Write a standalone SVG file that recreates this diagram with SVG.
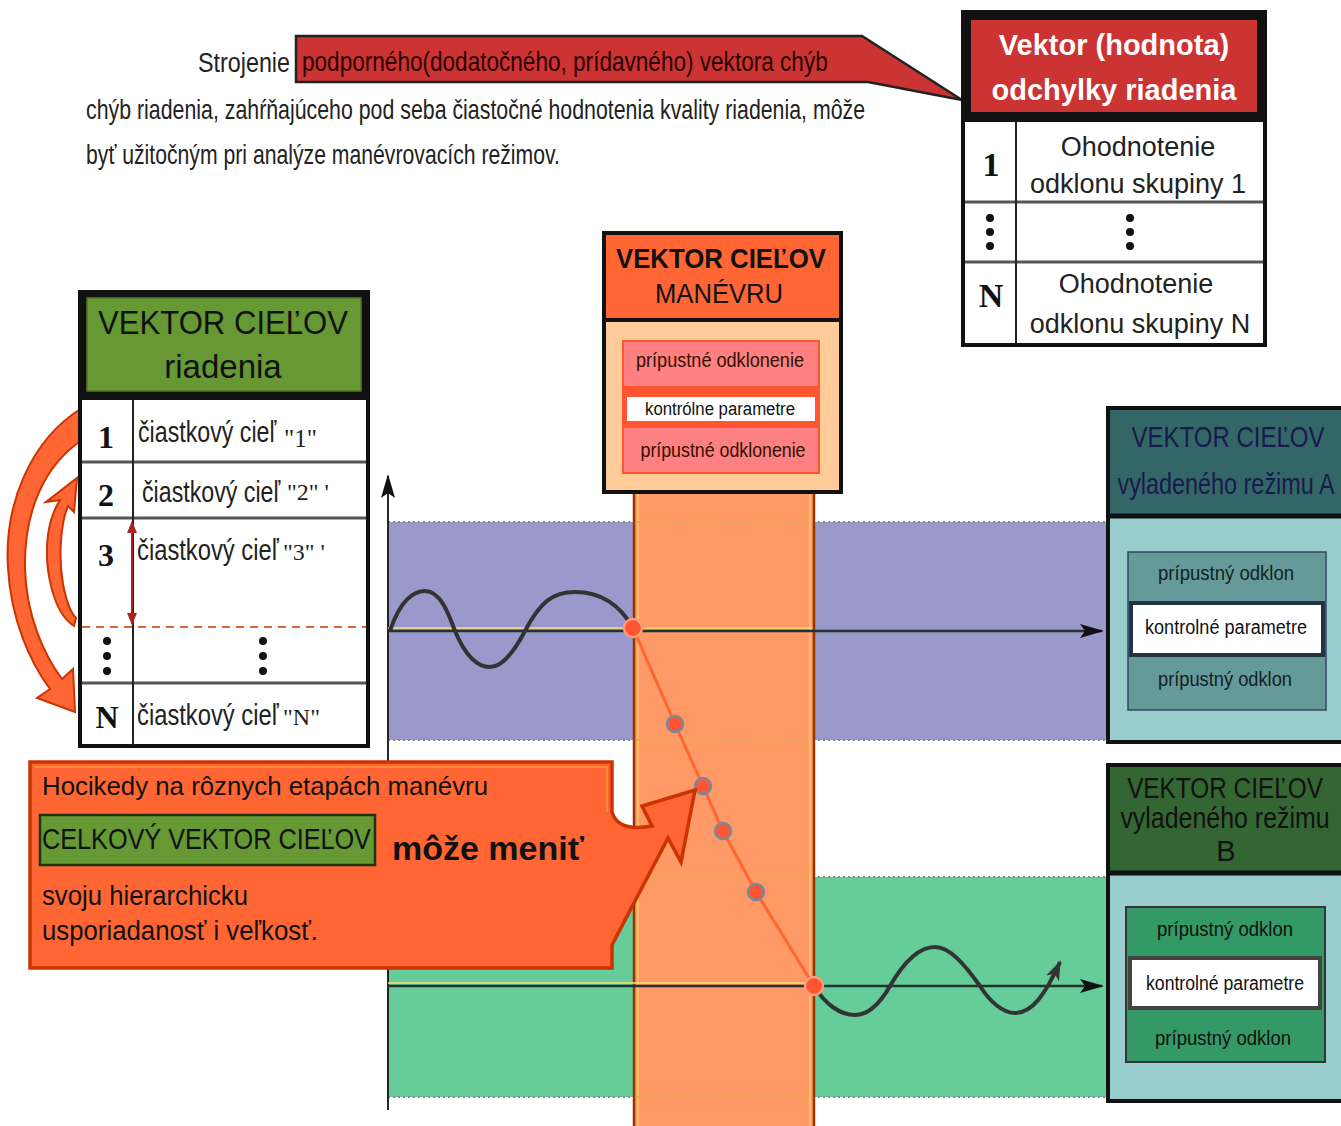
<svg xmlns="http://www.w3.org/2000/svg" width="1341" height="1126" viewBox="0 0 1341 1126">
<defs>
<style>
.s{font-family:"Liberation Sans",Arial,sans-serif;}
.r{font-family:"Liberation Serif","Times New Roman",serif;font-weight:bold;}
.q{font-family:"Liberation Serif","Times New Roman",serif;}
.b{font-weight:bold;}
.m{text-anchor:middle;}
.grid{stroke:#555;stroke-width:3;}
.dotg{stroke:#888;stroke-width:2;stroke-dasharray:2 3;}
.doty{stroke:#d9b24a;stroke-width:2;stroke-dasharray:3 4;}
.pt{fill:#ff5533;stroke:#7a8899;stroke-width:2.5;}
.pe{fill:#ff5533;stroke:#ff9a77;stroke-width:2.5;}
</style>
<marker id="ax" markerUnits="userSpaceOnUse" markerWidth="24" markerHeight="16" refX="22" refY="8" orient="auto">
<path d="M0,1 L24,8 L0,15 L5,8 Z" fill="#111"/>
</marker>
<marker id="axw" markerUnits="userSpaceOnUse" markerWidth="20" markerHeight="16" refX="18" refY="8" orient="auto">
<path d="M0,1 L20,8 L0,15 L5,8 Z" fill="#333"/>
</marker>
<marker id="ra" markerUnits="userSpaceOnUse" markerWidth="12" markerHeight="10" refX="11" refY="5" orient="auto-start-reverse">
<path d="M0,0 L12,5 L0,10 Z" fill="#aa2222"/>
</marker>
</defs>
<rect width="1341" height="1126" fill="#ffffff"/>

<g id="bands">
<rect x="388" y="522" width="722" height="218" fill="#9999cc"/>
<rect x="388" y="877" width="722" height="220" fill="#66cc99"/>
<line class="dotg" x1="388" y1="522" x2="1108" y2="522"/>
<line class="dotg" x1="388" y1="740" x2="1108" y2="740"/>
<line class="dotg" x1="388" y1="877" x2="1108" y2="877"/>
<line class="dotg" x1="388" y1="1097" x2="1108" y2="1097"/>
<rect x="634" y="493" width="180" height="640" fill="#ff9966"/>
<line x1="638" y1="493" x2="638" y2="1126" stroke="#ffcc66" stroke-width="1.5"/>
<line x1="810" y1="493" x2="810" y2="1126" stroke="#ffcc66" stroke-width="1.5"/>
<line x1="634" y1="493" x2="634" y2="1126" stroke="#993300" stroke-width="2.5"/>
<line x1="814" y1="493" x2="814" y2="1126" stroke="#993300" stroke-width="2.5"/>
<line class="doty" x1="636" y1="522" x2="812" y2="522"/>
<line class="doty" x1="636" y1="740" x2="812" y2="740"/>
<line class="doty" x1="636" y1="877" x2="812" y2="877"/>
<line class="doty" x1="636" y1="1097" x2="812" y2="1097"/>
</g>

<g id="connectors">
<line x1="388" y1="1110" x2="388" y2="476" stroke="#111" stroke-width="1.8" marker-end="url(#ax)"/>
<line x1="388" y1="628" x2="812" y2="628" stroke="#ffdd77" stroke-width="1.5"/>
<line x1="388" y1="631" x2="1102" y2="631" stroke="#223333" stroke-width="2.5" marker-end="url(#ax)"/>
<line x1="388" y1="983" x2="812" y2="983" stroke="#ffdd77" stroke-width="1.5"/>
<line x1="388" y1="986" x2="1102" y2="986" stroke="#223333" stroke-width="2.5" marker-end="url(#ax)"/>
<path d="M390,631 C400,600 414,591 425,591 C440,591 448,612 455,631 C465,655 477,667 490,667 C503,667 515,650 525,631 C540,602 553,592 575,592 C600,592 620,605 633,628" fill="none" stroke="#333" stroke-width="4"/>
<path d="M814,986 C825,1004 840,1015 855,1015 C870,1015 882,1000 890,986 C905,960 920,947 935,947 C950,947 965,965 980,986 C990,1002 1003,1013 1015,1013 C1032,1013 1045,995 1060,962" fill="none" stroke="#333" stroke-width="4" marker-end="url(#axw)"/>
<polyline points="633,628 675,724 703,786 723,831 756,892 814,986" fill="none" stroke="#ff6633" stroke-width="3"/>
<circle class="pe" cx="633" cy="628" r="9"/>
<circle class="pt" cx="675" cy="724" r="8"/>
<circle class="pt" cx="703" cy="786" r="8"/>
<circle class="pt" cx="723" cy="831" r="8"/>
<circle class="pt" cx="756" cy="892" r="8"/>
<circle class="pe" cx="814" cy="986" r="9"/>
<path d="M82,408 C30,440 4,505 8,568 C11,620 30,662 50,689 L37,698 L75,712 L73,669 L62,679 C44,655 26,615 25,568 C24,510 45,465 82,440 Z" fill="#ff6633" stroke="#cc3300" stroke-width="2"/>
<path d="M74,626 C52,612 44,566 48,535 C50,520 55,508 60,500 L46,502 L77,478 L74,512 L68,506 C61,522 58,556 63,584 C66,600 70,612 76,618 Z" fill="#ff6633" stroke="#cc3300" stroke-width="2"/>
</g>

<g id="intro">
<text class="s" x="198" y="72" font-size="27" textLength="92" lengthAdjust="spacingAndGlyphs" fill="#222">Strojenie</text>
<path d="M296,36 H862 L962,100 L868,82 H296 Z" fill="#cc3333" stroke="#222" stroke-width="2.5"/>
<text class="s" transform="translate(302,71) scale(0.75,1)" font-size="27" textLength="701" lengthAdjust="spacingAndGlyphs" fill="#2a0000">podporného(dodatočného, prídavného) vektora chýb</text>
<text class="s" transform="translate(86,119) scale(0.7,1)" font-size="28" textLength="1113" lengthAdjust="spacingAndGlyphs" fill="#222">chýb riadenia, zahŕňajúceho pod seba čiastočné hodnotenia kvality riadenia, môže</text>
<text class="s" transform="translate(86,164) scale(0.7,1)" font-size="28" textLength="677" lengthAdjust="spacingAndGlyphs" fill="#222">byť užitočným pri analýze manévrovacích režimov.</text>
</g>

<g id="odchylka">
<rect x="963" y="12" width="302" height="333" fill="#fff" stroke="#111" stroke-width="4"/>
<rect x="965" y="14" width="298" height="108" fill="#111"/>
<rect x="971" y="20" width="286" height="92" fill="#cc3333"/>
<text class="s b m" x="1114" y="55" font-size="29" fill="#fff">Vektor (hodnota)</text>
<text class="s b m" x="1114" y="100" font-size="29" fill="#fff">odchylky riadenia</text>
<text class="r m" x="991" y="176" font-size="34" fill="#111">1</text>
<text class="s m" x="1138" y="156" font-size="27" fill="#222">Ohodnotenie</text>
<text class="s m" x="1138" y="193" font-size="27" fill="#222">odklonu skupiny 1</text>
<text class="r m" x="991" y="307" font-size="34" fill="#111">N</text>
<text class="s m" x="1136" y="293" font-size="27" fill="#222">Ohodnotenie</text>
<text class="s m" x="1140" y="333" font-size="27" fill="#222">odklonu skupiny  N</text>
<line class="grid" x1="965" y1="202" x2="1263" y2="202"/>
<line class="grid" x1="965" y1="262" x2="1263" y2="262"/>
<line x1="1016" y1="122" x2="1016" y2="343" stroke="#222" stroke-width="2"/>
<g fill="#111">
<circle cx="990" cy="218" r="4"/><circle cx="990" cy="232" r="4"/><circle cx="990" cy="246" r="4"/>
<circle cx="1130" cy="218" r="4"/><circle cx="1130" cy="232" r="4"/><circle cx="1130" cy="246" r="4"/>
</g>
</g>

<g id="ciele-riadenia">
<rect x="80" y="292" width="288" height="454" fill="#fff" stroke="#111" stroke-width="4"/>
<rect x="82" y="294" width="284" height="106" fill="#111"/>
<rect x="87" y="298" width="274" height="93" fill="#669933" stroke="#557722" stroke-width="1.5"/>
<text class="s" x="98" y="334" font-size="34" textLength="250" lengthAdjust="spacingAndGlyphs" fill="#111">VEKTOR CIEĽOV</text>
<text class="s m" x="223" y="378" font-size="33" fill="#111">riadenia</text>
<line class="grid" x1="82" y1="462" x2="366" y2="462"/>
<line class="grid" x1="82" y1="518" x2="366" y2="518"/>
<line x1="82" y1="627" x2="366" y2="627" stroke="#dd6633" stroke-width="2" stroke-dasharray="8 6"/>
<line class="grid" x1="82" y1="683" x2="366" y2="683"/>
<line x1="133" y1="400" x2="133" y2="745" stroke="#222" stroke-width="2"/>
<text class="r m" x="106" y="448" font-size="32" fill="#111">1</text>
<text class="r m" x="106" y="506" font-size="32" fill="#111">2</text>
<text class="r m" x="106" y="566" font-size="32" fill="#111">3</text>
<text class="r m" x="107" y="728" font-size="32" fill="#111">N</text>
<g fill="#111">
<circle cx="107" cy="641" r="4"/><circle cx="107" cy="656" r="4"/><circle cx="107" cy="671" r="4"/>
<circle cx="263" cy="641" r="4"/><circle cx="263" cy="656" r="4"/><circle cx="263" cy="671" r="4"/>
</g>
<text class="s" transform="translate(138,442) scale(0.8,1)" font-size="29" fill="#222">čiastkový cieľ</text>
<text class="q" x="284" y="447" font-size="25" fill="#222">"1"</text>
<text class="s" transform="translate(142,502) scale(0.8,1)" font-size="29" fill="#222">čiastkový cieľ</text>
<text class="q" x="287" y="500" font-size="24" fill="#222">"2"   '</text>
<text class="s" transform="translate(137,560) scale(0.82,1)" font-size="29" fill="#222">čiastkový cieľ</text>
<text class="q" x="283" y="560" font-size="24" fill="#222">"3"  '</text>
<text class="s" transform="translate(137,725) scale(0.82,1)" font-size="29" fill="#222">čiastkový cieľ</text>
<text class="q" x="283" y="725" font-size="24" fill="#222">"N"</text>
<line x1="132" y1="522" x2="132" y2="624" stroke="#aa2222" stroke-width="2" marker-start="url(#ra)" marker-end="url(#ra)"/>
</g>

<g id="ciele-manevru">
<rect x="604" y="233" width="237" height="259" fill="#ffcc99" stroke="#111" stroke-width="4"/>
<rect x="606" y="235" width="233" height="84" fill="#ff6633"/>
<line x1="604" y1="320" x2="841" y2="320" stroke="#111" stroke-width="4"/>
<text class="s b" x="616" y="268" font-size="28" textLength="210" lengthAdjust="spacingAndGlyphs" fill="#111">VEKTOR CIEĽOV</text>
<text class="s" x="655" y="303" font-size="28" textLength="128" lengthAdjust="spacingAndGlyphs" fill="#111">MANÉVRU</text>
<rect x="622" y="340" width="198" height="134" fill="#ff5533"/>
<rect x="624" y="342" width="194" height="44" fill="#ff8080"/>
<rect x="627" y="397" width="188" height="24" fill="#fff"/>
<rect x="624" y="428" width="194" height="44" fill="#ff8080"/>
<text class="s m" x="720" y="367" font-size="20" textLength="168" lengthAdjust="spacingAndGlyphs" fill="#331100">prípustné odklonenie</text>
<text class="s m" x="720" y="415" font-size="18" textLength="150" lengthAdjust="spacingAndGlyphs" fill="#111">kontrólne parametre</text>
<text class="s m" x="723" y="457" font-size="20" textLength="165" lengthAdjust="spacingAndGlyphs" fill="#331100">prípustné odklonenie</text>
</g>

<g id="rezim-a">
<rect x="1108" y="408" width="240" height="334" fill="#99cccc" stroke="#111" stroke-width="4"/>
<rect x="1110" y="410" width="236" height="104" fill="#336666"/>
<line x1="1108" y1="516" x2="1341" y2="516" stroke="#111" stroke-width="5"/>
<text class="s m" transform="translate(1228,447) scale(0.8,1)" font-size="30" fill="#1a1a4d">VEKTOR CIEĽOV</text>
<text class="s m" transform="translate(1226,494) scale(0.78,1)" font-size="30" fill="#1a1a4d">vyladeného režimu A</text>
<rect x="1128" y="552" width="198" height="158" fill="#669999" stroke="#334466" stroke-width="1.5"/>
<rect x="1131" y="603" width="192" height="52" fill="#fff" stroke="#223344" stroke-width="4"/>
<text class="s m" x="1226" y="580" font-size="20" textLength="136" lengthAdjust="spacingAndGlyphs" fill="#112222">prípustný odklon</text>
<text class="s m" x="1226" y="634" font-size="20" textLength="162" lengthAdjust="spacingAndGlyphs" fill="#111">kontrolné parametre</text>
<text class="s m" x="1225" y="686" font-size="20" textLength="134" lengthAdjust="spacingAndGlyphs" fill="#112222">prípustný odklon</text>
</g>

<g id="rezim-b">
<rect x="1108" y="765" width="240" height="336" fill="#99cccc" stroke="#111" stroke-width="4"/>
<rect x="1110" y="767" width="236" height="104" fill="#336633"/>
<line x1="1108" y1="873" x2="1341" y2="873" stroke="#111" stroke-width="5"/>
<text class="s m" transform="translate(1225,798) scale(0.84,1)" font-size="29" fill="#111">VEKTOR CIEĽOV</text>
<text class="s m" transform="translate(1225,828) scale(0.86,1)" font-size="29" fill="#111">vyladeného režimu</text>
<text class="s m" x="1226" y="861" font-size="29" fill="#111">B</text>
<rect x="1126" y="907" width="199" height="155" fill="#339966" stroke="#333" stroke-width="2"/>
<rect x="1130" y="958" width="190" height="50" fill="#fff" stroke="#444" stroke-width="4"/>
<text class="s m" x="1225" y="936" font-size="20" textLength="136" lengthAdjust="spacingAndGlyphs" fill="#111">prípustný odklon</text>
<text class="s m" x="1225" y="990" font-size="20" textLength="158" lengthAdjust="spacingAndGlyphs" fill="#111">kontrolné parametre</text>
<text class="s m" x="1223" y="1045" font-size="20" textLength="136" lengthAdjust="spacingAndGlyphs" fill="#111">prípustný odklon</text>
</g>

<g id="callout">
<path d="M30,762 H612 V812 C616,826 630,830 652,826 L642,806 L695,790 L681,862 L668,838 L612,945 V968 H30 Z" fill="#ff6633" stroke="#cc3300" stroke-width="3.5" stroke-linejoin="miter"/>
<path d="M35,767 H607 V812" fill="none" stroke="#ffaa44" stroke-width="1"/>
<text class="s" x="42" y="795" font-size="26" textLength="446" lengthAdjust="spacingAndGlyphs" fill="#111">Hocikedy na rôznych etapách manévru</text>
<rect x="40" y="815" width="335" height="50" fill="#669933" stroke="#223311" stroke-width="2.5"/>
<text class="s" transform="translate(42,849) scale(0.87,1)" font-size="29" fill="#111">CELKOVÝ VEKTOR CIEĽOV</text>
<text class="s b" x="392" y="860" font-size="34" textLength="192" lengthAdjust="spacingAndGlyphs" fill="#111">môže meniť</text>
<text class="s" x="42" y="905" font-size="27" textLength="206" lengthAdjust="spacingAndGlyphs" fill="#111">svoju hierarchicku</text>
<text class="s" x="42" y="940" font-size="27" textLength="276" lengthAdjust="spacingAndGlyphs" fill="#111">usporiadanosť i veľkosť.</text>
</g>
</svg>
